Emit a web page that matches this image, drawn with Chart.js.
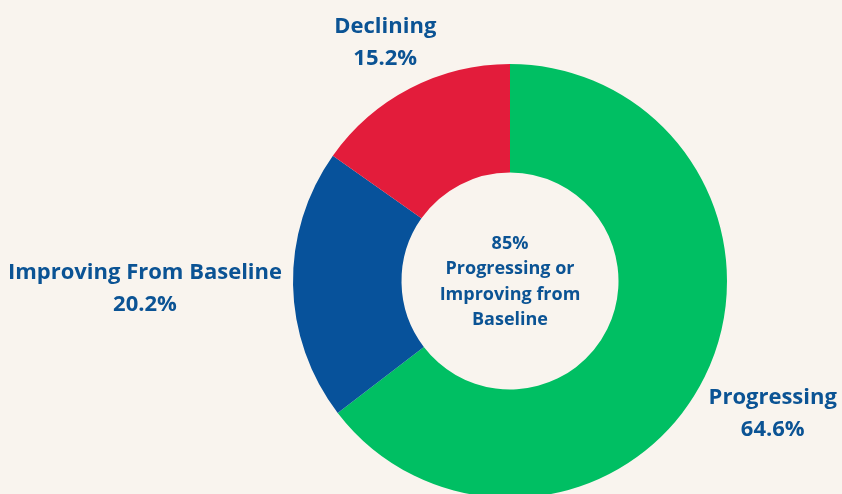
<!DOCTYPE html>
<html>
<head>
<meta charset="utf-8">
<script src="https://cdn.jsdelivr.net/npm/chart.js@4/dist/chart.umd.min.js"></script>
<style>
  html, body { margin: 0; padding: 0; background: #f9f4ee; overflow: hidden; }
  #wrap { position: relative; width: 842px; height: 520px; }
</style>
</head>
<body>
<div id="wrap"><canvas id="donut" width="842" height="520"></canvas></div>
<script>
const categories = ['Progressing', 'Improving From Baseline', 'Declining'];
const shares = [64.6, 20.2, 15.2];
const sliceColors = ['#00bf63', '#07529b', '#e31c3b'];
const centerLines = ['85%', 'Progressing or', 'Improving from', 'Baseline'];

const textBlue = '#0b5394';

// where each label sits relative to the outer edge of its slice
const labelPlacement = [
  { align: 'left', dx: 4, dy: 21 },
  { align: 'right', dx: -11, dy: -12 },
  { align: 'center', dx: -25, dy: -62 }
];

const labelPlugin = {
  id: 'sliceLabels',
  afterDraw(chart) {
    const ctx = chart.ctx;
    const meta = chart.getDatasetMeta(0);
    ctx.save();
    ctx.fillStyle = textBlue;
    ctx.textBaseline = 'middle';
    ctx.font = 'bold 22px "Open Sans"';
    meta.data.forEach((arc, i) => {
      const mid = (arc.startAngle + arc.endAngle) / 2;
      const x = arc.x + Math.cos(mid) * arc.outerRadius;
      const y = arc.y + Math.sin(mid) * arc.outerRadius;
      const p = labelPlacement[i];
      const tx = x + p.dx;
      const ty = y + p.dy;
      const w = ctx.measureText(categories[i]).width;
      ctx.textAlign = 'center';
      let cx = tx;
      if (p.align === 'left') cx = tx + w / 2;
      if (p.align === 'right') cx = tx - w / 2;
      ctx.fillText(categories[i], cx, ty);
      ctx.fillText(shares[i].toFixed(1) + '%', cx, ty + 32);
    });

    // centre text
    const c = meta.data[0];
    ctx.font = 'bold 18px "Open Sans", sans-serif';
    ctx.textAlign = 'center';
    const lh = 25.5;
    const startY = c.y - lh * 1.5 + 1;
    centerLines.forEach((line, i) => {
      ctx.fillText(line, c.x, startY + i * lh);
    });
    ctx.restore();
  }
};

new Chart(document.getElementById('donut'), {
  type: 'doughnut',
  data: {
    labels: categories,
    datasets: [{
      data: shares,
      backgroundColor: sliceColors,
      borderWidth: 0
    }]
  },
  options: {
    responsive: false,
    animation: false,
    cutout: '50%',
    rotation: 0,
    layout: { padding: { top: 64, bottom: 22, left: 293, right: 115 } },
    plugins: {
      legend: { display: false },
      tooltip: { enabled: false }
    }
  },
  plugins: [labelPlugin]
});
</script>
</body>
</html>
